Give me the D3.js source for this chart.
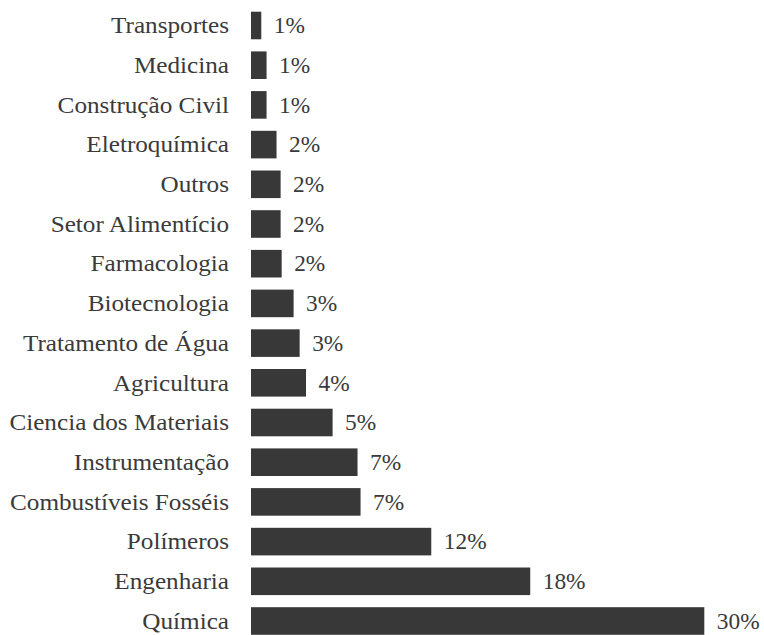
<!DOCTYPE html>
<html><head><meta charset="utf-8"><script src="https://cdn.jsdelivr.net/npm/d3@7"></script></head>
<body style="margin:0">
<svg id="s" width="764" height="635"></svg>
<script>
// Areas of application, share of publications (%)
const categories = [
  "Transportes", "Medicina", "Construção Civil", "Eletroquímica", "Outros",
  "Setor Alimentício", "Farmacologia", "Biotecnologia", "Tratamento de Água",
  "Agricultura", "Ciencia dos Materiais", "Instrumentação",
  "Combustíveis Fosséis", "Polímeros", "Engenharia", "Química"
];
const shares = [
  0.68, 1.03, 1.03, 1.69, 1.96,
  1.96, 2.03, 2.82, 3.22,
  3.64, 5.40, 7.05,
  7.25, 11.93, 18.48, 30.0
];

const fmt = v => Math.round(v) + "%";

const s = d3.select("#s");

const x = d3.scaleLinear().domain([0, 30]).range([251, 704.3]);
const y = d3.scaleBand()
  .domain(categories)
  .range([11.7, 634.8])
  .paddingInner(0.305)
  .paddingOuter(0);

const rows = categories.map((c, i) => ({ name: c, value: shares[i] }));
const mid = d => y(d.name) + y.bandwidth() / 2 + 7.8;

// bars
s.selectAll("rect")
  .data(rows)
  .join("rect")
  .attr("x", x(0))
  .attr("y", d => y(d.name))
  .attr("width", d => x(d.value) - x(0))
  .attr("height", y.bandwidth())
  .attr("fill", "#383838");

// category labels, right-aligned against the bars
rows.forEach(d => {
  s.append("text")
    .attr("transform", `translate(229,${mid(d)}) scale(1.11,1)`)
    .attr("text-anchor", "end")
    .attr("font-size", 22.7)
    .attr("fill", "#3a3a3a")
    .style("font-family", '"Liberation Serif"')
    .text(d.name);
});

// value labels at the bar ends
rows.forEach(d => {
  s.append("text")
    .attr("transform", `translate(${x(d.value) + 12.5},${mid(d)}) scale(1.03,1)`)
    .attr("font-size", 22.7)
    .attr("fill", "#3a3a3a")
    .style("font-family", '"Liberation Serif"')
    .text(fmt(d.value));
});
</script></body></html>
